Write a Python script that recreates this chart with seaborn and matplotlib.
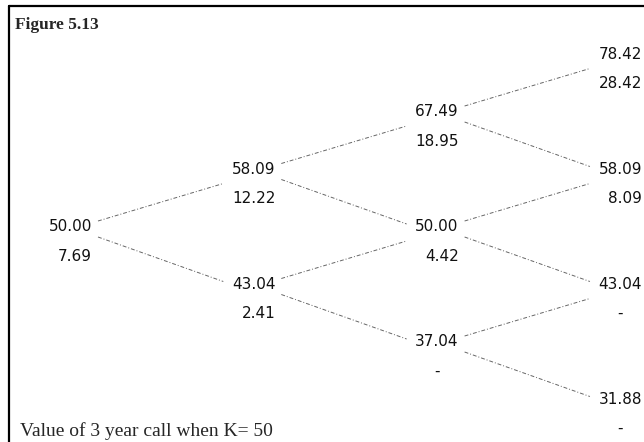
import pandas as pd
import matplotlib.pyplot as plt
import seaborn as sns
from matplotlib.lines import Line2D

# Binomial tree values, one list per time step (top node first)
stock_t0 = [50.00]
stock_t1 = [58.09, 43.04]
stock_t2 = [67.49, 50.00, 37.04]
stock_t3 = [78.42, 58.09, 43.04, 31.88]

call_t0 = [7.69]
call_t1 = [12.22, 2.41]
call_t2 = [18.95, 4.42, 0.0]
call_t3 = [28.42, 8.09, 0.0, 0.0]

title_text = "Figure 5.13"
caption_text = "Value of 3 year call when K= 50"

stock_levels = [stock_t0, stock_t1, stock_t2, stock_t3]
call_levels = [call_t0, call_t1, call_t2, call_t3]

# pixel scale of the layout grid
PX_STEP = 183.3   # px between time steps
PX_NODE = 57.5    # px per unit of (ups - downs)


def build_nodes():
    rows = []
    for n, (stocks, calls) in enumerate(zip(stock_levels, call_levels)):
        for i, (s, c) in enumerate(zip(stocks, calls)):
            rows.append({"step": n, "level": n - 2 * i, "stock": s, "call": c})
    return pd.DataFrame(rows)


def build_edges(nodes):
    rows = []
    eid = 0
    for _, nd in nodes.iterrows():
        n, j = nd["step"], nd["level"]
        if n >= len(stock_levels) - 1:
            continue
        x0 = n + 6 / PX_STEP
        x1 = n + 1 - 52 / PX_STEP
        # up move
        rows.append({"edge": eid, "x": x0, "y": j + 6 / PX_NODE})
        rows.append({"edge": eid, "x": x1, "y": j + 1 - 14 / PX_NODE})
        eid += 1
        # down move
        rows.append({"edge": eid, "x": x0, "y": j - 10 / PX_NODE})
        rows.append({"edge": eid, "x": x1, "y": j - 1 + 3 / PX_NODE})
        eid += 1
    return pd.DataFrame(rows)


def main():
    sns.set_theme(style="white")
    plt.rcParams["font.family"] = ["DejaVu Sans"]

    nodes = build_nodes()
    edges = build_edges(nodes)

    fig = plt.figure(figsize=(6.44, 4.42), dpi=100)
    ax = fig.add_axes([0, 0, 1, 1])
    ax.set_xlim(-92 / PX_STEP, (644 - 92) / PX_STEP)
    ax.set_ylim((227 - 442) / PX_NODE, 227 / PX_NODE)
    ax.axis("off")

    sns.lineplot(data=edges, x="x", y="y", units="edge", estimator=None,
                 color="#666666", linewidth=0.7, sort=False, ax=ax,
                 linestyle=(0, (4, 2, 1, 2)))

    for _, nd in nodes.iterrows():
        ax.text(nd["step"], nd["level"], f"{nd['stock']:.2f}", ha="right",
                va="center", fontsize=11, color="#111111")
        if nd["call"] > 0:
            ax.annotate(f"{nd['call']:.2f}", (nd["step"], nd["level"]),
                        xytext=(0, -20.9), textcoords="offset points",
                        ha="right", va="center", fontsize=11, color="#111111")
        else:
            ax.annotate("-", (nd["step"], nd["level"]),
                        xytext=(-15.8, -20.9), textcoords="offset points",
                        ha="center", va="center", fontsize=11, color="#111111")

    # frame lines (top and left) as in the scanned figure
    fig.add_artist(Line2D([9 / 644, 1], [1 - 6 / 442, 1 - 6 / 442],
                          transform=fig.transFigure, color="black", lw=1.6))
    fig.add_artist(Line2D([9 / 644, 9 / 644], [0, 1 - 6 / 442],
                          transform=fig.transFigure, color="black", lw=1.6))

    fig.text(15 / 644, 1 - 25 / 442, title_text, ha="left", va="center",
             fontsize=12.5, fontweight="bold", family="Liberation Serif")
    fig.text(20 / 644, 1 - 431 / 442, caption_text, ha="left", va="center",
             fontsize=14, family="Liberation Serif")

    fig.savefig("out.png", dpi=100, facecolor="white")


if __name__ == "__main__":
    main()
